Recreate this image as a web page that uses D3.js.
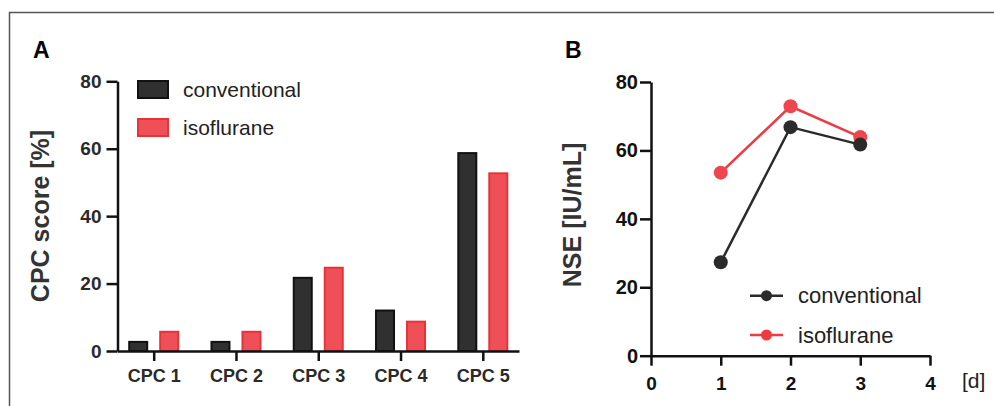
<!DOCTYPE html>
<html>
<head>
<meta charset="utf-8">
<script src="https://cdn.jsdelivr.net/npm/d3@7"></script>
<style>
  body { margin: 0; background: #fff; }
  svg { display: block; font-family: "Liberation Sans", Arial, Helvetica, sans-serif; }
  .axis path, .axis line { stroke: #111; stroke-width: 2.5; }
  .axis text { font-weight: bold; }
</style>
</head>
<body>
<svg id="fig" width="994" height="406"></svg>
<script>
"use strict"
var svg = d3.select("svg#fig");

// panel A data
var categories = ["CPC 1", "CPC 2", "CPC 3", "CPC 4", "CPC 5"];
var series = ["conventional", "isoflurane"];
var conventionalCpc = [3, 3, 22, 12.3, 59];
var isofluraneCpc = [6, 6, 25, 9, 53];
var yTicksA = [0, 20, 40, 60, 80];

// panel B data
var days = [1, 2, 3];
var conventionalNse = [27.3, 66.8, 61.7];
var isofluraneNse = [53.5, 72.9, 63.9];
var xTicksB = [0, 1, 2, 3, 4];
var yTicksB = [0, 20, 40, 60, 80];

var colors = {
  conventional: { fill: "#2f302f", stroke: "#111", line: "#2b2b2b" },
  isoflurane: { fill: "#ef5058", stroke: "#e8323a", line: "#ee3b43" }
};

// frame
svg.append("rect")
    .attr("x", 9.5).attr("y", 12.5)
    .attr("width", 1100).attr("height", 500)
    .attr("fill", "none")
    .attr("stroke", "#555")
    .attr("stroke-width", 1.5);

// ---------- panel A ----------
var xA = d3.scalePoint().domain(categories).range([117.5, 519]).padding(0.44);
var xSub = d3.scaleBand().domain(series).range([-25.5, 25.5]).paddingInner(11 / 31);
var yA = d3.scaleLinear().domain([0, 80]).range([351, 81.3]);

var gA = svg.append("g");

gA.append("text")
    .attr("x", 33).attr("y", 58)
    .style("font-size", "23px").style("font-weight", "bold")
    .text("A");

gA.append("text")
    .attr("transform", "translate(49,216) rotate(-90)")
    .attr("text-anchor", "middle")
    .style("font-size", "25px").style("font-weight", "bold").style("fill", "#333")
    .text("CPC score [%]");

var cpcRows = categories.map(function(c, i) {
  return { cat: c, values: [
    { s: "conventional", v: conventionalCpc[i] },
    { s: "isoflurane", v: isofluraneCpc[i] }
  ]};
});

gA.selectAll("g.grp")
    .data(cpcRows)
  .enter().append("g")
    .attr("class", "grp")
    .attr("transform", function(d) { return "translate(" + xA(d.cat) + ",0)"; })
  .selectAll("rect")
    .data(function(d) { return d.values; })
  .enter().append("rect")
    .attr("x", function(d) { return xSub(d.s) + 1; })
    .attr("width", xSub.bandwidth() - 2)
    .attr("y", function(d) { return yA(d.v) + 1; })
    .attr("height", function(d) { return Math.max(0, yA(0) - yA(d.v) - 1); })
    .attr("fill", function(d) { return colors[d.s].fill; })
    .attr("stroke", function(d) { return colors[d.s].stroke; })
    .attr("stroke-width", 2);

gA.append("g")
    .attr("class", "axis")
    .attr("transform", "translate(117.5,0)")
    .call(d3.axisLeft(yA).tickValues(yTicksA).tickSize(11).tickSizeOuter(0).tickPadding(5))
    .selectAll("text").style("font-size", "19px").style("fill", "#2a2a2a");

gA.append("g")
    .attr("class", "axis")
    .attr("transform", "translate(0,351)")
    .call(d3.axisBottom(xA).tickSize(10).tickSizeOuter(0).tickPadding(8))
    .selectAll("text").style("font-size", "18px").style("fill", "#2a2a2a");

var legA = gA.selectAll("g.legA")
    .data(series)
  .enter().append("g")
    .attr("class", "legA")
    .attr("transform", function(d, i) { return "translate(138," + (81 + i * 38) + ")"; });
legA.append("rect")
    .attr("width", 30).attr("height", 17)
    .attr("fill", function(d) { return colors[d].fill; })
    .attr("stroke", function(d) { return colors[d].stroke; })
    .attr("stroke-width", 2);
legA.append("text")
    .attr("x", 45).attr("y", 15.5)
    .style("font-size", "21px").style("fill", "#222")
    .text(function(d) { return d; });

// ---------- panel B ----------
var xB = d3.scaleLinear().domain([0, 4]).range([651, 930]);
var yB = d3.scaleLinear().domain([0, 80]).range([355.7, 82]);

var gB = svg.append("g");

gB.append("text")
    .attr("x", 565).attr("y", 58)
    .style("font-size", "23px").style("font-weight", "bold")
    .text("B");

gB.append("text")
    .attr("transform", "translate(581,215) rotate(-90)")
    .attr("text-anchor", "middle")
    .style("font-size", "25px").style("font-weight", "bold").style("fill", "#333")
    .text("NSE [IU/mL]");

gB.append("g")
    .attr("class", "axis")
    .attr("transform", "translate(651,0)")
    .call(d3.axisLeft(yB).tickValues(yTicksB).tickSize(11).tickSizeOuter(0).tickPadding(2))
    .selectAll("text").style("font-size", "20px").style("fill", "#111");

gB.append("g")
    .attr("class", "axis")
    .attr("transform", "translate(0,355.7)")
    .call(d3.axisBottom(xB).tickValues(xTicksB).tickFormat(d3.format("d")).tickSize(10).tickSizeOuter(0).tickPadding(11))
    .selectAll("text").style("font-size", "19px").style("fill", "#111");

gB.append("text")
    .attr("x", 962).attr("y", 388)
    .style("font-size", "21px").style("fill", "#222")
    .text("[d]");

var nseSeries = [
  { s: "isoflurane", values: isofluraneNse },
  { s: "conventional", values: conventionalNse }
];

var line = d3.line()
    .x(function(d, i) { return xB(days[i]); })
    .y(function(d) { return yB(d); });

var sB = gB.selectAll("g.ser")
    .data(nseSeries)
  .enter().append("g")
    .attr("class", "ser");
sB.append("path")
    .attr("d", function(d) { return line(d.values); })
    .attr("fill", "none")
    .attr("stroke", function(d) { return colors[d.s].line; })
    .attr("stroke-width", 2.5);
sB.selectAll("circle")
    .data(function(d) { return d.values.map(function(v, i) { return { s: d.s, v: v, day: days[i] }; }); })
  .enter().append("circle")
    .attr("cx", function(d) { return xB(d.day); })
    .attr("cy", function(d) { return yB(d.v); })
    .attr("r", 7)
    .attr("fill", function(d) { return d.s == "isoflurane" ? "#ef454d" : colors[d.s].line; });

var legB = gB.selectAll("g.legB")
    .data(series)
  .enter().append("g")
    .attr("class", "legB")
    .attr("transform", function(d, i) { return "translate(750," + (295.7 + i * 39.3) + ")"; });
legB.append("line")
    .attr("x1", 0).attr("x2", 33)
    .attr("stroke", function(d) { return colors[d].line; })
    .attr("stroke-width", 2.5);
legB.append("circle")
    .attr("cx", 16.5).attr("r", 5.5)
    .attr("fill", function(d) { return colors[d].line; });
legB.append("text")
    .attr("x", 48).attr("y", 7.5)
    .style("font-size", "22px").style("fill", "#222")
    .text(function(d) { return d; });
</script>
</body>
</html>
